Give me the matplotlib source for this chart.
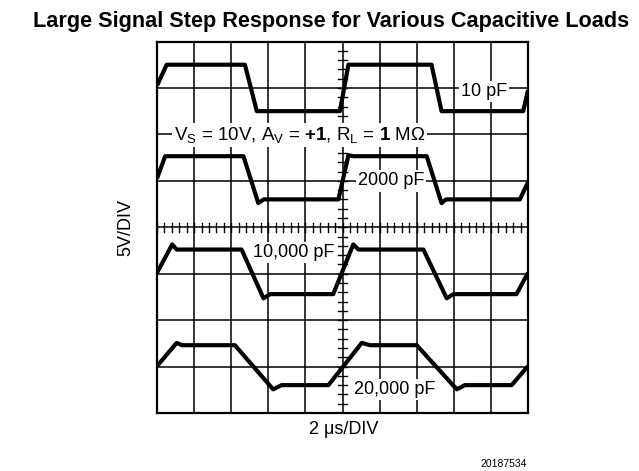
import numpy as np
import matplotlib
matplotlib.use("Agg")
import matplotlib.pyplot as plt

plt.rcParams['font.family'] = ['Liberation Sans', 'DejaVu Sans']
plt.rcParams['mathtext.fontset'] = 'custom'
plt.rcParams['mathtext.rm'] = 'Liberation Sans'
plt.rcParams['mathtext.it'] = 'Liberation Sans:italic'
plt.rcParams['mathtext.bf'] = 'Liberation Sans:bold'

# ---- data (divisions) ----
t_10pF = [0.0, 0.26, 2.37, 2.69, 4.93, 5.16, 7.40, 7.67, 9.87, 10.0]
v_10pF = [3.05, 3.50, 3.50, 2.50, 2.50, 3.50, 3.50, 2.50, 2.50, 2.95]

t_2000pF = [0.0, 0.22, 2.33, 2.73, 2.88, 4.89, 5.16, 5.30, 7.27, 7.67, 7.79, 9.78, 10.0]
v_2000pF = [1.05, 1.53, 1.53, 0.52, 0.60, 0.60, 1.55, 1.53, 1.53, 0.52, 0.60, 0.60, 0.97]

t_10000pF = [0.0, 0.41, 0.53, 2.28, 2.87, 3.05, 4.75, 5.29, 5.43, 7.18, 7.81, 7.99, 9.69, 10.0]
v_10000pF = [-0.98, -0.37, -0.48, -0.48, -1.53, -1.44, -1.44, -0.37, -0.48, -0.48, -1.53, -1.44, -1.44, -0.98]

t_20000pF = [0.0, 0.53, 0.67, 2.10, 3.13, 3.36, 4.62, 5.52, 5.74, 7.00, 8.08, 8.30, 9.56, 10.0]
v_20000pF = [-2.99, -2.49, -2.54, -2.54, -3.49, -3.40, -3.40, -2.49, -2.54, -2.54, -3.49, -3.40, -3.40, -2.99]

labels = ["10 pF", "2000 pF", "10,000 pF", "20,000 pF"]
label_x = [8.81, 6.31, 3.68, 6.41]
label_y = [2.82, 0.90, -0.64, -3.59]

title = "Large Signal Step Response for Various Capacitive Loads"
cond_text = r"V$_\mathrm{S}$ = 10V, A$_\mathrm{V}$ = $\mathbf{+1}$, R$_\mathrm{L}$ = $\mathbf{1}$ MΩ"
x_label = "2 μs/DIV"
y_label = "5V/DIV"
fig_id = "20187534"

# ---- figure ----
fig = plt.figure(figsize=(6.39, 4.71), dpi=100)
ax = fig.add_axes([157/639, 1 - 413/471, 371/639, 371.5/471])
ax.set_xlim(0, 10)
ax.set_ylim(-4, 4)
ax.set_xticks([])
ax.set_yticks([])
for s in ax.spines.values():
    s.set_linewidth(1.6)
    s.set_zorder(5)

# grid
for gx in range(1, 10):
    ax.axvline(gx, color='black', lw=1.1, zorder=1)
for gy in range(-3, 4):
    ax.axhline(gy, color='black', lw=1.1, zorder=1)

# minor ticks on centre lines
for tx in np.arange(0, 10.001, 0.2):
    ax.plot([tx, tx], [-0.1, 0.1], color='black', lw=1.0, zorder=1)
for ty in np.arange(-4, 4.001, 0.2):
    ax.plot([4.89, 5.11], [ty, ty], color='black', lw=1.0, zorder=1)

# traces
for t, v in [(t_10pF, v_10pF), (t_2000pF, v_2000pF),
             (t_10000pF, v_10000pF), (t_20000pF, v_20000pF)]:
    ax.plot(t, v, color='black', lw=3.0, solid_joinstyle='round',
            solid_capstyle='butt', zorder=3, clip_on=True)

bbox = dict(facecolor='white', edgecolor='none', pad=1.5)
for lab, lx, ly in zip(labels, label_x, label_y):
    ax.text(lx, ly, lab, fontsize=13, ha='center', va='baseline',
            bbox=bbox, zorder=4)
ax.text(3.84, 1.87, cond_text, fontsize=13.5, ha='center', va='baseline',
        bbox=bbox, zorder=4)

fig.text(331/639, 1 - 26.5/471, title, fontsize=15.6, fontweight='bold',
         ha='center', va='baseline')
fig.text(126/639, 1 - 228/471, y_label, fontsize=13, rotation=90,
         ha='center', va='center')
fig.text(344/639, 1 - 430/471, x_label, fontsize=13, ha='center', va='center')
fig.text(527/639, 1 - 464/471, fig_id, fontsize=7.5, ha='right', va='center')

fig.savefig("out.png", dpi=100)
